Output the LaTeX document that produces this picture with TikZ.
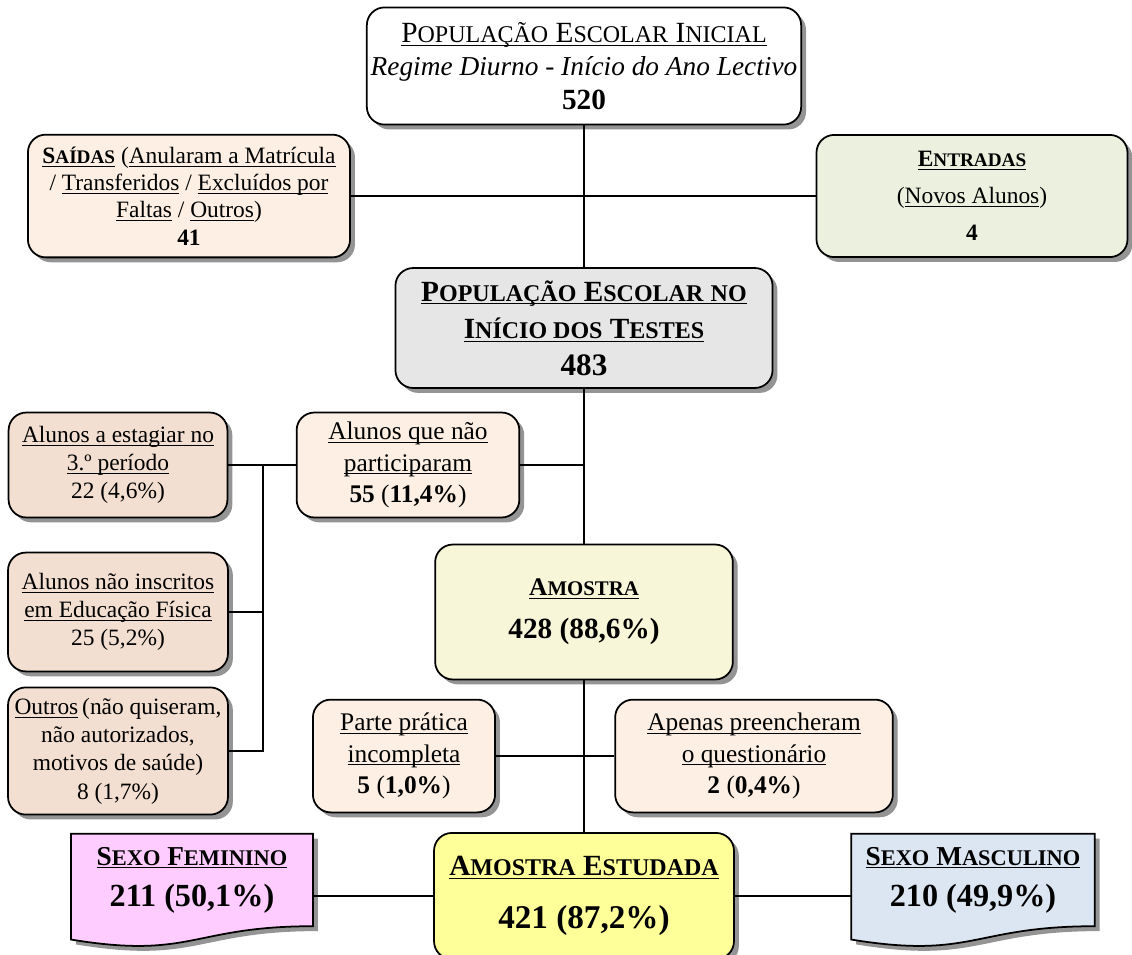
\documentclass[tikz,border=0pt]{standalone}
\usepackage{fontspec}
\setmainfont{Liberation Serif}
\usepackage{xcolor}
\usepackage{tikz}
\usetikzlibrary{shadows,backgrounds}
\definecolor{saida}{HTML}{FDEFE4}
\definecolor{falta}{HTML}{F2DFD1}
\definecolor{entrada}{HTML}{EBF1DE}
\definecolor{escolar}{HTML}{E6E6E6}
\definecolor{amostra}{HTML}{F7F6D8}
\definecolor{estudada}{HTML}{FFFF99}
\definecolor{feminino}{HTML}{FFCCFF}
\definecolor{masculino}{HTML}{DCE6F2}

\newcommand{\sublinha}[1]{\underline{\raisebox{0pt}[\height][0pt]{#1}}}
\makeatletter
\newcommand{\versal}[1]{{\fontsize{\fpeval{0.82*\f@size}}{\f@baselineskip}\selectfont #1}}
\makeatother

\tikzset{
    caixa/.style={draw, line width=0.9pt, rounded corners=0.32cm, align=center, inner sep=2pt,
        font=\fontsize{12}{14.5}\selectfont,
        drop shadow={shadow xshift=2.5pt, shadow yshift=-2.5pt, fill=black!60, opacity=0.7}},
    documento/.style={align=center, inner sep=2pt},
    ligacao/.style={line width=1.4pt},
}

\begin{document}
\begin{tikzpicture}[x=0.018cm, y=-0.018cm]
    \useasboundingbox (0,0) rectangle (1132,955);
    % topo
    \node[caixa, fill=white, minimum width=7.6cm, minimum height=2.11cm, font=\fontsize{14}{17}\selectfont] (inicial) at (584,66)
        {{\fontsize{15}{17}\selectfont\sublinha{P\versal{OPULAÇÃO} E\versal{SCOLAR} I\versal{NICIAL}}}\\ \textit{Regime Diurno - Início do Ano Lectivo}\\ {\fontsize{15}{17}\selectfont\bfseries 520}};
    \node[caixa, fill=saida, minimum width=5.8cm, minimum height=2.21cm, font=\fontsize{12}{14}\selectfont] (saidas) at (189,196)
        {\textbf{\sublinha{S\versal{AÍDAS}}} (\sublinha{Anularam a Matrícula}\\ / \sublinha{Transferidos} / \sublinha{Excluídos por}\\ \sublinha{Faltas} / \sublinha{Outros})\\ \textbf{41}};
    \node[caixa, fill=entrada, minimum width=5.6cm, minimum height=2.2cm, font=\fontsize{12}{19}\selectfont] (entradas) at (972,196)
        {\textbf{\sublinha{E\versal{NTRADAS}}}\\ (\sublinha{Novos Alunos})\\ \textbf{4}};
    \node[caixa, fill=escolar, minimum width=6.79cm, minimum height=2.16cm, font=\fontsize{15}{19}\selectfont\bfseries] (testes) at (584,328)
        {\sublinha{P\versal{OPULAÇÃO} E\versal{SCOLAR} \versal{NO}}\\ \sublinha{I\versal{NÍCIO DOS} T\versal{ESTES}}\\ {\fontsize{16}{19}\selectfont 483}};

    % nao participaram
    \node[caixa, fill=falta, minimum width=3.94cm, minimum height=1.89cm] (estagio) at (118,465)
        {\sublinha{Alunos a estagiar no}\\ \sublinha{3.º período}\\ 22 (4,6\%)};
    \node[caixa, fill=saida, minimum width=4.01cm, minimum height=1.89cm, font=\fontsize{13}{16}\selectfont] (naopart) at (408,465)
        {\sublinha{Alunos que não}\\ \sublinha{participaram}\\ \textbf{55} (\textbf{11,4\%})};
    \node[caixa, fill=falta, minimum width=3.96cm, minimum height=2.14cm] (inscritos) at (118,612)
        {\sublinha{Alunos não inscritos}\\ \sublinha{em Educação Física}\\ 25 (5,2\%)};
    \node[caixa, fill=falta, minimum width=3.96cm, minimum height=2.29cm] (outros) at (118,751)
        {\sublinha{Outros}\,(não quiseram,\\ não autorizados,\\ motivos de saúde)\\ 8 (1,7\%)};
    \coordinate (juncao) at (263,465);

    % amostra
    \node[caixa, fill=amostra, minimum width=5.36cm, minimum height=2.43cm, font=\fontsize{13}{22}\selectfont\bfseries] (amostra) at (584,612)
        {\sublinha{A\versal{MOSTRA}}\\ {\fontsize{15}{22}\selectfont 428 (88,6\%)}};
    \node[caixa, fill=saida, minimum width=3.28cm, minimum height=2.03cm, font=\fontsize{13}{16}\selectfont] (parte) at (404,756)
        {\sublinha{Parte prática}\\ \sublinha{incompleta}\\ \textbf{5} (\textbf{1,0\%})};
    \node[caixa, fill=saida, minimum width=5.0cm, minimum height=2.03cm, font=\fontsize{13}{16}\selectfont] (apenas) at (754,756)
        {\sublinha{Apenas preencheram}\\ \sublinha{o questionário}\\ \textbf{2} (\textbf{0,4\%})};

    % amostra estudada
    \node[caixa, fill=estudada, minimum width=5.4cm, minimum height=2.27cm, font=\fontsize{15}{27}\selectfont\bfseries] (estudada) at (584,896)
        {\sublinha{A\versal{MOSTRA} E\versal{STUDADA}}\\ {\fontsize{17}{27}\selectfont 421 (87,2\%)}};
    \node[documento, minimum width=4.34cm, minimum height=1.65cm, font=\fontsize{14}{21}\selectfont\bfseries] (feminino) at (192,880)
        {\sublinha{S\versal{EXO} F\versal{EMININO}}\\ {\fontsize{16.5}{21}\selectfont 211 (50,1\%)}};
    \node[documento, minimum width=4.37cm, minimum height=1.65cm, font=\fontsize{14}{21}\selectfont\bfseries] (masculino) at (973,880)
        {\sublinha{S\versal{EXO} M\versal{ASCULINO}}\\ {\fontsize{16.5}{21}\selectfont 210 (49,9\%)}};
    \begin{scope}[on background layer]
        \foreach \no in {feminino, masculino}
            \draw[line width=0.9pt, fill=\no, drop shadow={shadow xshift=2.5pt, shadow yshift=-2.5pt, fill=black!60, opacity=0.7}]
                (\no.north west) -- (\no.north east) -- (\no.south east)
                .. controls (\no.south) and ([yshift=-0.6cm]\no.south) .. ([yshift=-0.24cm]\no.south west) -- cycle;
    \end{scope}

    % ligacoes
    \draw[ligacao] (inicial) -- (testes);
    \draw[ligacao] (saidas) -- (entradas);
    \draw[ligacao] (testes) -- (amostra);
    \draw[ligacao] (amostra) -- (estudada);
    \draw[ligacao] (naopart.east) -- (naopart.east -| amostra.north);
    \draw[ligacao] (estagio) -- (naopart);
    \draw[ligacao] (juncao) |- (outros);
    \draw[ligacao] (inscritos) -- (inscritos -| juncao);
    \draw[ligacao] (parte) -- (apenas);
    \draw[ligacao] (estudada.west) -- (estudada.west -| feminino.east);
    \draw[ligacao] (estudada.east) -- (estudada.east -| masculino.west);
\end{tikzpicture}
\end{document}
